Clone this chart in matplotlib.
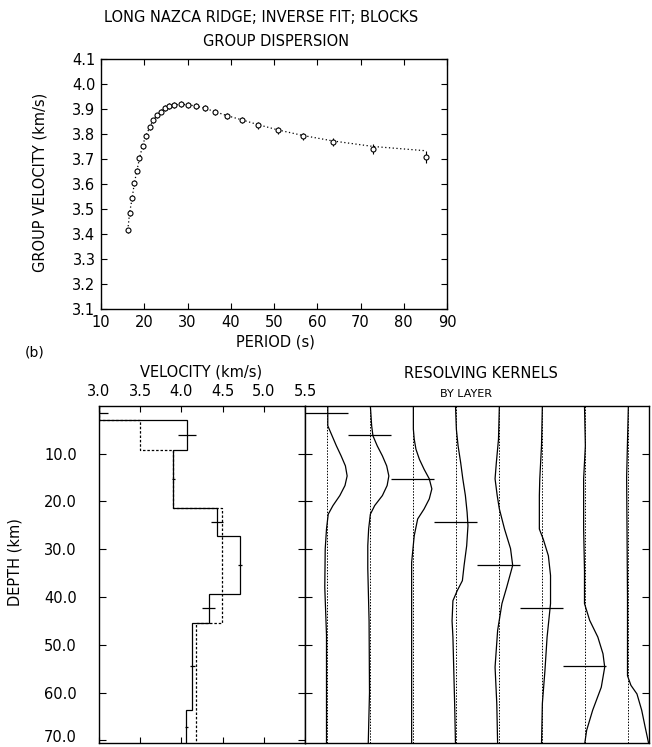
import numpy as np
import matplotlib
matplotlib.use('Agg')
import matplotlib.pyplot as plt

plt.rcParams['font.family'] = ['DejaVu Sans']

# ---- (a) group dispersion: observed points and inverse fit ----
period = [16.2, 16.6, 17.2, 17.7, 18.3, 18.9, 19.6, 20.3, 21.3, 22.1, 23.0, 23.8,
          24.7, 25.8, 26.9, 28.4, 30.0, 31.9, 34.0, 36.4, 39.2, 42.5, 46.4, 51.0,
          56.7, 63.7, 73.0, 85.1]
u_obs = [3.416, 3.483, 3.543, 3.603, 3.653, 3.703, 3.752, 3.792, 3.827, 3.856, 3.876, 3.889,
         3.903, 3.912, 3.916, 3.919, 3.917, 3.912, 3.903, 3.889, 3.873, 3.857, 3.836, 3.816,
         3.792, 3.769, 3.739, 3.709]
u_err = [0.010, 0.010, 0.010, 0.010, 0.010, 0.010, 0.010, 0.010, 0.010, 0.010, 0.010, 0.010,
         0.012, 0.012, 0.012, 0.012, 0.012, 0.012, 0.012, 0.012, 0.012, 0.012, 0.014, 0.014,
         0.014, 0.016, 0.020, 0.024]
u_fit = [3.416, 3.483, 3.543, 3.603, 3.653, 3.703, 3.752, 3.792, 3.827, 3.856, 3.876, 3.889,
         3.903, 3.912, 3.916, 3.919, 3.917, 3.912, 3.903, 3.889, 3.873, 3.857, 3.837, 3.816,
         3.794, 3.772, 3.750, 3.733]

# ---- (b) layered shear velocity model ----
layer_tops = [0.0, 3.0, 9.2, 21.5, 27.3, 39.4, 45.4, 63.6, 71.0]
vs_final = [3.00, 4.07, 3.90, 4.43, 4.71, 4.33, 4.13, 4.06]
vs_start = [3.00, 3.50, 3.90, 4.49, 4.49, 4.49, 4.18, 4.18]
vs_err = [0.11, 0.11, 0.02, 0.07, 0.02, 0.08, 0.03, 0.02]

# resolving kernels (depth km, amplitude in column widths)
k1_z = [0, 4.2, 6.3, 8.4, 10.5, 12.6, 14.7, 16.7, 18.8, 20.9, 22.7, 25.8, 30, 38, 48, 71]
k1_a = [0.03, 0.03, 0.13, 0.23, 0.34, 0.44, 0.48, 0.43, 0.31, 0.15, 0.04, 0.0, -0.03, -0.04, 0.0, 0.0]
k2_z = [0, 4.2, 6.3, 8.4, 10.5, 12.6, 14.7, 16.7, 18.8, 20.9, 22.7, 25.8, 29.3, 34, 45, 60, 71]
k2_a = [0.02, 0.05, 0.08, 0.18, 0.30, 0.40, 0.45, 0.41, 0.30, 0.12, 0.02, -0.02, -0.04, -0.04, -0.01, 0.0, -0.03]
k3_z = [0, 4.9, 7.0, 9.1, 11.2, 13.3, 15.3, 17.4, 19.5, 21.6, 23.7, 27.2, 32.8, 71]
k3_a = [0.02, 0.02, 0.04, 0.08, 0.16, 0.27, 0.39, 0.45, 0.39, 0.27, 0.12, 0.04, -0.02, -0.02]
k4_z = [0, 4.9, 8.4, 11.9, 15.3, 18.8, 22.3, 25.1, 29.3, 33.4, 36.6, 38.7, 40.8, 45.0, 48.4, 55.4, 62.3, 71]
k4_a = [0.0, 0.02, 0.06, 0.12, 0.17, 0.23, 0.27, 0.29, 0.26, 0.20, 0.16, 0.04, -0.06, -0.08, -0.06, -0.04, -0.02, 0.0]
k5_z = [0, 7.0, 11.9, 15.3, 18.8, 21.6, 25.8, 29.9, 33.4, 38.0, 41.4, 47.0, 54.7, 62.3, 71]
k5_a = [0.02, 0.0, -0.05, -0.08, -0.03, 0.02, 0.14, 0.28, 0.33, 0.19, 0.08, -0.02, -0.08, -0.04, -0.02]
k6_z = [0, 8.4, 15.3, 18.8, 25.8, 27.9, 31.4, 35.5, 41.4, 48.4, 55.4, 62.3, 71]
k6_a = [0.02, 0.0, -0.04, -0.05, -0.05, 0.04, 0.16, 0.21, 0.21, 0.13, 0.08, 0.02, 0.0]
k7_z = [0, 8.4, 15.3, 25.8, 34.5, 41.4, 44.9, 48.4, 51.9, 54.7, 58.9, 63.7, 67.9, 71]
k7_a = [0.0, 0.02, -0.02, -0.02, 0.0, 0.0, 0.12, 0.31, 0.43, 0.47, 0.39, 0.19, 0.05, 0.0]
k8_z = [0, 15, 40, 56.5, 58.5, 60.3, 63.7, 67.2, 71]
k8_a = [0.02, -0.02, 0.0, 0.0, 0.08, 0.22, 0.33, 0.41, 0.50]
n_bars = 7  # layers whose depth bar is drawn

kernels_z = [k1_z, k2_z, k3_z, k4_z, k5_z, k6_z, k7_z, k8_z]
kernels_a = [k1_a, k2_a, k3_a, k4_a, k5_a, k6_a, k7_a, k8_a]

W, H = 652, 747
fig = plt.figure(figsize=(W / 100, H / 100), dpi=100)
fs = 10.5
lw = 0.9

# --- top panel ---
ax1 = fig.add_axes([101 / W, 1 - 309 / H, 346 / W, 250 / H])
ax1.errorbar(period, u_obs, yerr=u_err, fmt='o', ms=3.6, mfc='white', mec='black',
             mew=0.8, ecolor='black', elinewidth=0.8, capsize=0, zorder=3)
ax1.plot(period, u_fit, ls=(0, (1, 2)), color='black', lw=0.9, zorder=2)
ax1.set_xlim(10, 90)
ax1.set_ylim(3.1, 4.1)
ax1.set_xticks(np.arange(10, 91, 10))
yt = np.arange(3.1, 4.101, 0.1)
ax1.set_yticks(yt)
ax1.set_yticklabels(['%.1f' % v for v in yt])
ax1.tick_params(direction='in', top=True, right=True, length=4.5, width=0.8,
                labelsize=fs, pad=4)

fig.text(261 / W, 1 - 18 / H, 'LONG NAZCA RIDGE; INVERSE FIT; BLOCKS', ha='center', va='center', fontsize=fs)
fig.text(276 / W, 1 - 42 / H, 'GROUP DISPERSION', ha='center', va='center', fontsize=fs)
fig.text(40 / W, 1 - 182 / H, 'GROUP VELOCITY (km/s)', ha='center', va='center', rotation=90, fontsize=fs)
fig.text(275 / W, 1 - 342 / H, 'PERIOD (s)', ha='center', va='center', fontsize=fs)
fig.text(35 / W, 1 - 352 / H, '(b)', ha='center', va='center', fontsize=10)

# --- velocity model panel ---
bot = 1 - 742.7 / H
hgt = 337 / H
ax2 = fig.add_axes([99 / W, bot, 206 / W, hgt])
ax2.stairs(vs_start, layer_tops, orientation='horizontal', baseline=None,
           color='black', lw=lw, ls=(0, (2, 1.5)))
ax2.stairs(vs_final, layer_tops, orientation='horizontal', baseline=None,
           color='black', lw=lw)
mids = [(a + b) / 2 for a, b in zip(layer_tops[:-1], layer_tops[1:])]
ax2.errorbar(vs_final, mids, xerr=vs_err, fmt='none', ecolor='black', elinewidth=lw, capsize=0)
ax2.set_xlim(3.0, 5.5)
ax2.set_ylim(70.5, 0)
xt = np.arange(3.0, 5.51, 0.5)
ax2.set_xticks(xt)
ax2.set_xticklabels(['%.1f' % v for v in xt])
dt = np.arange(10, 71, 10)
ax2.set_yticks(dt)
# bottom label (70.0) is placed by hand so it stays inside the canvas
ax2.set_yticklabels(['%.1f' % v for v in dt[:-1]] + [''])
ax2.tick_params(axis='x', direction='in', top=True, bottom=True, labeltop=True,
                labelbottom=False, length=4.5, width=0.8, labelsize=fs, pad=5)
ax2.tick_params(axis='y', direction='in', left=True, right=True, length=4.8,
                width=0.8, labelsize=fs, pad=16)
fig.text(77 / W, 1 - 737.5 / H, '%.1f' % dt[-1], ha='right', va='center', fontsize=fs)

fig.text(201 / W, 1 - 372 / H, 'VELOCITY (km/s)', ha='center', va='center', fontsize=fs)
fig.text(15 / W, 1 - 562 / H, 'DEPTH (km)', ha='center', va='center', rotation=90, fontsize=fs)

# --- resolving kernels panel ---
ax3 = fig.add_axes([305 / W, bot, 344 / W, hgt])
for i, (kz, ka) in enumerate(zip(kernels_z, kernels_a)):
    base = i + 0.5
    ax3.axvline(base, ls=(0, (1.5, 1.5)), color='black', lw=0.7)
    ax3.plot(base + np.array(ka), kz, color='black', lw=lw)
ax3.hlines(mids[:n_bars], np.arange(n_bars), np.arange(n_bars) + 1, color='black', lw=lw)
ax3.set_xlim(0, 8)
ax3.set_ylim(70.5, 0)
ax3.set_xticks([])
ax3.set_yticks(dt[:-1])
ax3.tick_params(axis='y', direction='in', left=True, right=True, labelleft=False,
                length=4.8, width=0.8)

fig.text(481 / W, 1 - 373 / H, 'RESOLVING KERNELS', ha='center', va='center', fontsize=fs)
fig.text(466 / W, 1 - 394 / H, 'BY LAYER', ha='center', va='center', fontsize=8)

for ax in (ax1, ax2, ax3):
    for s in ax.spines.values():
        s.set_linewidth(1.0)

fig.savefig('out.png', dpi=100)
